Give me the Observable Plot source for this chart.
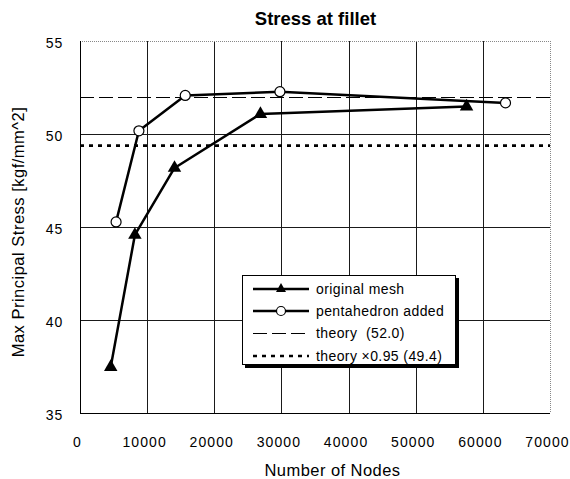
<!DOCTYPE html>
<html>
<head>
<meta charset="utf-8">
<script src="https://cdn.jsdelivr.net/npm/d3@7"></script>
<script src="https://cdn.jsdelivr.net/npm/@observablehq/plot@0.6"></script>
<style>
  body { margin: 0; background: #fff; }
  #wrap { position: relative; width: 570px; height: 479px; background: #fff; font-family: "Liberation Sans", Arial, "Noto Sans CJK JP", sans-serif; color: #000; }
  .abs { position: absolute; white-space: nowrap; }
  #title { left: 215.5px; width: 200px; top: 10.3px; text-align: center; font-weight: bold; font-size: 18.5px; line-height: 18.5px; }
  #xtitle { left: 232.5px; width: 200px; top: 461.5px; text-align: center; font-size: 16.5px; line-height: 16px; letter-spacing: 0.45px; }
  #ytitle { left: 17.6px; top: 232px; transform: translate(-50%, -50%) rotate(-90deg); font-size: 16.5px; line-height: 17px; letter-spacing: 0.5px; }
  #legend { left: 242px; top: 275px; width: 214px; height: 90px; border: 1px solid #000; background: #fff; box-shadow: 3px 3px 0 #000; box-sizing: border-box; }
  .row { position: absolute; left: 10px; height: 16px; display: flex; align-items: center; font-size: 14px; letter-spacing: 0.4px; }
  .row svg { display: block; margin-right: 7px; }
</style>
</head>
<body>
<div id="wrap">
  <div id="chart"></div>
  <div id="title" class="abs"></div>
  <div id="xtitle" class="abs"></div>
  <div id="ytitle" class="abs"></div>
  <div id="legend" class="abs"></div>
</div>
<script>
// ---- data ----
const chartTitle = "Stress at fillet";
const xLabel = "Number of Nodes";
const yLabel = "Max Principal Stress [kgf/mm^2]";
const xTicks = [0, 10000, 20000, 30000, 40000, 50000, 60000, 70000];
const yTicks = [35, 40, 45, 50, 55];
const origNodes = [4500, 8100, 14000, 26800, 57500];
const origStress = [37.5, 44.6, 48.2, 51.1, 51.5];
const pentaNodes = [5300, 8700, 15600, 29700, 63300];
const pentaStress = [45.3, 50.2, 52.1, 52.3, 51.7];
const theory = [52.0];
const theory95 = [49.4];
const seriesNames = ["original mesh", "pentahedron added", "theory \u00a0(52.0)", "theory \u00d70.95 (49.4)"];

// ---- build tables ----
const orig = origNodes.map((n, i) => ({nodes: n, stress: origStress[i]}));
const penta = pentaNodes.map((n, i) => ({nodes: n, stress: pentaStress[i]}));
const xGrid = xTicks.slice(1, -1);
const yGrid = yTicks.slice(1, -1);
const xMin = xTicks[0], xMax = xTicks[xTicks.length - 1];
const yMin = yTicks[0], yMax = yTicks[yTicks.length - 1];

const crisp = {shapeRendering: "crispEdges"};

const chart = Plot.plot({
  width: 570,
  height: 479,
  marginLeft: 80,
  marginRight: 20,
  marginTop: 41,
  marginBottom: 66,
  style: {fontFamily: "'Liberation Sans', Arial, sans-serif", fontSize: "14px", color: "#000", background: "#fff", overflow: "visible", letterSpacing: "1.1px"},
  x: {domain: [xMin, xMax], axis: null},
  y: {domain: [yMin, yMax], axis: null},
  marks: [
    // grid
    Plot.ruleX(xGrid, {stroke: "#1a1a1a", strokeWidth: 1, ...crisp}),
    Plot.ruleY(yGrid, {stroke: "#1a1a1a", strokeWidth: 1, ...crisp}),
    // frame
    Plot.ruleY([yMax], {stroke: "#888", strokeDasharray: "1,1", strokeWidth: 1, ...crisp}),
    Plot.ruleX([xMax], {stroke: "#888", strokeDasharray: "1,1", strokeWidth: 1, ...crisp}),
    Plot.ruleX([xMin], {stroke: "#000", strokeWidth: 1, ...crisp}),
    Plot.ruleY([yMin], {stroke: "#000", strokeWidth: 1, ...crisp}),
    // tick labels
    Plot.text(xTicks, {x: d => d, text: d => String(d), frameAnchor: "bottom", lineAnchor: "top", dy: 24, dx: -3, fill: "#000"}),
    Plot.text(yTicks, {y: d => d, text: d => String(d), frameAnchor: "left", textAnchor: "end", dx: -17, dy: 2, fill: "#000"}),
    // theory lines
    Plot.ruleY(theory, {stroke: "#000", strokeWidth: 1, strokeDasharray: "14,5", ...crisp}),
    Plot.ruleY(theory95, {stroke: "#000", strokeWidth: 2.6, strokeDasharray: "4,5"}),
    // data
    Plot.line(orig, {x: "nodes", y: "stress", stroke: "#000", strokeWidth: 2.5}),
    Plot.line(penta, {x: "nodes", y: "stress", stroke: "#000", strokeWidth: 2.5}),
    Plot.dot(orig, {x: "nodes", y: "stress", symbol: "triangle", r: 5, fill: "#000", stroke: "none"}),
    Plot.dot(penta, {x: "nodes", y: "stress", symbol: "circle", r: 5, fill: "#fff", stroke: "#000", strokeWidth: 1.2})
  ]
});
document.getElementById("chart").appendChild(chart);

document.getElementById("title").textContent = chartTitle;
document.getElementById("xtitle").textContent = xLabel;
document.getElementById("ytitle").textContent = yLabel;

// ---- legend ----
const legend = document.getElementById("legend");
const rowTops = [4.5, 27, 48.5, 72];
const swatches = [
  '<line x1="0" y1="8" x2="56" y2="8" stroke="#000" stroke-width="2.5"/><path d="M28,2 L33,11 L23,11 Z" fill="#000"/>',
  '<line x1="0" y1="8" x2="56" y2="8" stroke="#000" stroke-width="2.5"/><circle cx="28" cy="8" r="4.5" fill="#fff" stroke="#000" stroke-width="1.2"/>',
  '<line x1="0" y1="8.5" x2="56" y2="8.5" stroke="#000" stroke-width="1" stroke-dasharray="14,5"/>',
  '<line x1="0" y1="8" x2="56" y2="8" stroke="#000" stroke-width="2.6" stroke-dasharray="4,5"/>'
];
seriesNames.forEach((name, i) => {
  const row = document.createElement("div");
  row.className = "row";
  row.style.top = rowTops[i] + "px";
  row.innerHTML = '<svg width="56" height="16">' + swatches[i] + '</svg>';
  const span = document.createElement("span");
  span.textContent = name;
  row.appendChild(span);
  legend.appendChild(row);
});
</script>
</body>
</html>
